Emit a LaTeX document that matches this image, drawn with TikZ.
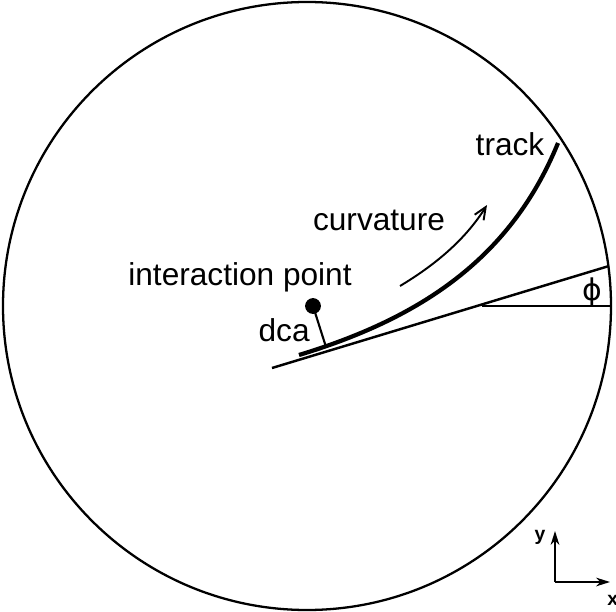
\documentclass[tikz,border=0pt]{standalone}
\usepackage{fontspec}
\setmainfont{Liberation Sans}
\newfontfamily\symfont{DejaVu Sans}
\usetikzlibrary{arrows.meta}
\begin{document}
\begin{tikzpicture}[x=0.02cm,y=-0.02cm,
  lbl/.style={font=\fontsize{18}{20}\selectfont, inner sep=0pt},
  small/.style={font=\fontsize{11}{12}\selectfont\bfseries, inner sep=0pt}]
\useasboundingbox (0,0) rectangle (616,612);
% detector circle
\coordinate (C) at (307,306);
\draw[line width=1.3pt] (C) circle[radius=304];
% tangent line and horizontal reference
\coordinate (t0) at (272,368);
\coordinate (t1) at (609,266);
\draw[line width=1.4pt] (t0) -- (t1);
\coordinate (h0) at (482,306);
\coordinate (h1) at (611,306);
\draw[line width=1.1pt] (h0) -- (h1);
\node[inner sep=0pt, font=\symfont\fontsize{17}{18}\selectfont] (phi) at (592,292) {ϕ};
% track
\coordinate (k0) at (299,355);
\coordinate (k1) at (558,143);
\draw[line width=2.4pt] (k0) .. controls (414,320) and (509,263) .. (k1);
% curvature arrow
\coordinate (a0) at (400,286);
\coordinate (a1) at (487,205);
\draw[line width=1.1pt, -{Straight Barb[length=7pt,width=6pt]}] (a0) .. controls (435,265) and (465,240) .. (a1);
% interaction point and dca
\node[circle, fill=black, minimum size=9pt, inner sep=0pt] (ip) at (313,306) {};
\coordinate (d1) at (326,347);
\draw[line width=1.2pt] (ip.center) -- (d1);
% labels
\node[lbl, anchor=base] (track) at (510,155) {track};
\node[lbl, anchor=base] (curv) at (379,230) {curvature};
\node[lbl, anchor=base] (inter) at (240,285) {interaction point};
\node[lbl, anchor=base east] (dca) at (310,341) {dca};
% axes
\coordinate (o) at (555,582);
\coordinate (oy) at (555,531);
\coordinate (ox) at (610,582);
\draw[line width=1pt, -{Stealth[length=8pt,width=5pt]}] (o) -- (oy);
\draw[line width=1pt, -{Stealth[length=8pt,width=5pt]}] (o) -- (ox);
\node[small] (ylab) at (540,537) {y};
\node[small, anchor=west] (xlab) at (607,600) {x};
\end{tikzpicture}
\end{document}
